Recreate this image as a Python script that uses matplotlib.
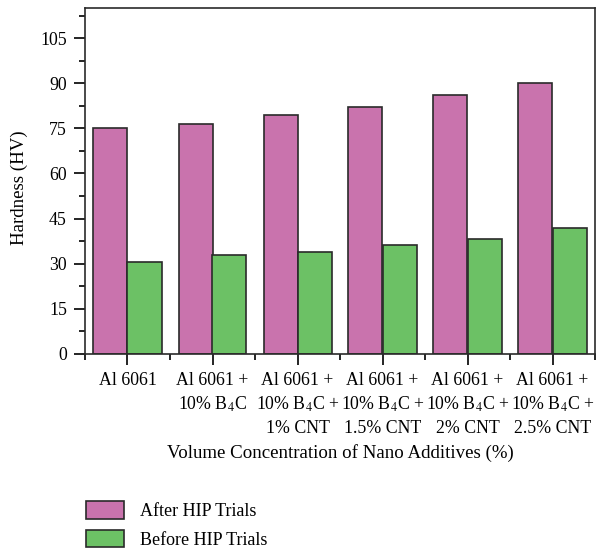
import matplotlib
matplotlib.use("Agg")
import matplotlib.pyplot as plt
import numpy as np
from matplotlib.ticker import MultipleLocator, FixedLocator

plt.rcParams['font.family'] = ['Liberation Serif', 'DejaVu Serif']
plt.rcParams['mathtext.fontset'] = 'stix'

categories = ['Al 6061',
              'Al 6061 +\n10% B$_4$C',
              'Al 6061 +\n10% B$_4$C +\n1% CNT',
              'Al 6061 +\n10% B$_4$C +\n1.5% CNT',
              'Al 6061 +\n10% B$_4$C +\n2% CNT',
              'Al 6061 +\n10% B$_4$C +\n2.5% CNT']
after_hip = [75.0, 76.5, 79.3, 82.2, 86.2, 90.1]
before_hip = [30.5, 33.0, 33.8, 36.2, 38.2, 41.8]

pink = '#c973ad'
green = '#6cc165'
edge = '#2a2a2a'

fig = plt.figure(figsize=(5.97, 5.5), dpi=100)
ax = fig.add_axes([85 / 597, 1 - 354 / 550, 510 / 597, 346 / 550])

x = np.arange(len(categories))
w = 0.4
ax.bar(x - w / 2, after_hip, w, color=pink, edgecolor=edge, linewidth=1.2, label='After HIP Trials')
ax.bar(x + w / 2, before_hip, w, color=green, edgecolor=edge, linewidth=1.2, label='Before HIP Trials')

ax.set_xlim(-0.5, len(categories) - 0.5)
ax.set_ylim(0, 115)
ax.yaxis.set_major_locator(FixedLocator([0, 15, 30, 45, 60, 75, 90, 105]))
ax.yaxis.set_minor_locator(MultipleLocator(7.5))
ax.set_xticks(x)
ax.set_xticklabels(categories, fontsize=12.8, linespacing=1.4)
ax.xaxis.set_minor_locator(FixedLocator(np.arange(-0.5, len(categories), 1.0)))
ax.tick_params(axis='y', labelsize=12.8, direction='out', length=8, width=1.2, pad=5)
ax.tick_params(axis='y', which='minor', direction='out', length=4, width=1.2)
ax.tick_params(axis='x', direction='out', length=8, width=1.2, pad=5)
ax.tick_params(axis='x', which='minor', direction='out', length=4, width=1.2)
for s in ax.spines.values():
    s.set_linewidth(1.2)
    s.set_color(edge)

ax.set_ylabel('Hardness (HV)', fontsize=13.6)
ax.yaxis.set_label_coords(-0.112, 0.48)
ax.set_xlabel('Volume Concentration of Nano Additives (%)', fontsize=13.6, labelpad=5)

fig.legend(loc='upper left', bbox_to_anchor=(70 / 597, 1 - 485 / 550), frameon=False,
           fontsize=13, handlelength=2.1, handleheight=1.1, labelspacing=0.55, handletextpad=0.85)

fig.savefig('out.png', dpi=100)
